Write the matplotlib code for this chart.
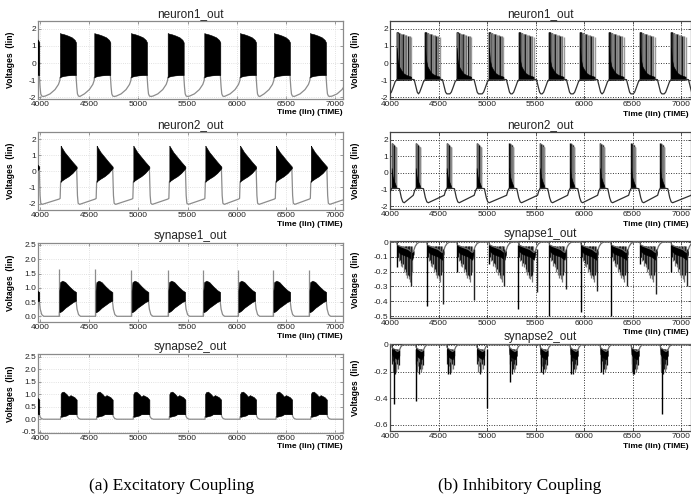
import matplotlib.pyplot as plt

# ---------------- shared axis data ----------------
x_ticks = [4000, 4500, 5000, 5500, 6000, 6500, 7000]
x_ticklabels = ['4000', '4500', '5000', '5500', '6000', '6500', '7000']
titles = ['neuron1_out', 'neuron2_out', 'synapse1_out', 'synapse2_out']
captions = ['(a) Excitatory Coupling', '(b) Inhibitory Coupling']

exc_yticks = [[-2, -1, 0, 1, 2], [-2, -1, 0, 1, 2],
              [0, 0.5, 1, 1.5, 2, 2.5], [-0.5, 0, 0.5, 1, 1.5, 2, 2.5]]
exc_yticklabels = [['-2', '-1', '0', '1', '2'], ['-2', '-1', '0', '1', '2'],
                   ['0.0', '0.5', '1.0', '1.5', '2.0', '2.5'],
                   ['-0.5', '0.0', '0.5', '1.0', '1.5', '2.0', '2.5']]
inh_yticks = [[-2, -1, 0, 1, 2], [-2, -1, 0, 1, 2],
              [-0.5, -0.4, -0.3, -0.2, -0.1, 0], [-0.6, -0.4, -0.2, 0]]
inh_yticklabels = [['-2', '-1', '0', '1', '2'], ['-2', '-1', '0', '1', '2'],
                   ['-0.5', '-0.4', '-0.3', '-0.2', '-0.1', '0'],
                   ['-0.6', '-0.4', '-0.2', '0']]

# ---------------- (a) excitatory coupling ----------------
# burst onsets (first and last ones sit outside the visible window)
exc_n1_onsets = [3830, 4203, 4552, 4925, 5298, 5670, 6033, 6378, 6744, 7120]
exc_n2_onsets = [3830, 4210, 4576, 4949, 5315, 5681, 6034, 6397, 6753, 7120]
exc_s1_onsets = [3823, 4197, 4566, 4932, 5305, 5661, 6017, 6373, 6739, 7150]
exc_s2_onsets = [3830, 4210, 4576, 4949, 5315, 5678, 6034, 6400, 6753, 7150]
exc_s1_peaks = [1.6, 1.65, 1.65, 1.63, 1.62, 1.62, 1.62, 1.62, 1.62, 1.62]

# burst envelope (time after onset, top, bottom)
exc_n1_bt = [0, 10, 40, 80, 120, 150, 163]
exc_n1_hi = [1.75, 1.72, 1.68, 1.6, 1.5, 1.35, 1.2]
exc_n1_lo = [-0.85, -0.8, -0.75, -0.72, -0.7, -0.7, -0.7]
exc_n1_ft = [0, 8, 15, 25, 40]            # fall after burst end
exc_n1_fv = [-0.7, -1.4, -1.8, -1.93, -1.95]
exc_n1_rt = [-150, -100, -50, -15, 0]     # rise before next onset
exc_n1_rv = [-1.93, -1.8, -1.55, -1.25, -1.0]

exc_n2_bt = [0, 5, 40, 80, 120, 163]
exc_n2_hi = [1.6, 1.55, 1.2, 0.9, 0.6, 0.3]
exc_n2_lo = [-0.65, -0.6, -0.45, -0.3, -0.1, 0.2]
exc_n2_ft = [0, 8, 15, 30]
exc_n2_fv = [0.2, -1.5, -1.98, -2.05]
exc_n2_rt = [-15, -5, 0]
exc_n2_rv = [-1.72, -1.68, -0.65]

exc_s1_bt = [0, 8, 30, 60, 100, 140, 170]
exc_s1_hi = [0.9, 1.2, 1.25, 1.2, 1.05, 0.92, 0.85]
exc_s1_lo = [0.15, 0.15, 0.2, 0.3, 0.4, 0.5, 0.55]
exc_s1_ft = [0, 10, 25, 45]
exc_s1_fv = [0.55, 0.25, 0.06, 0.0]
exc_s1_rt = [-1, 0]
exc_s1_rv = [0.0, 0.15]

exc_s2_bt = [0, 10, 30, 60, 80, 100, 120, 140, 163]
exc_s2_hi = [1.0, 1.08, 1.1, 1.0, 0.9, 0.96, 0.92, 0.88, 0.78]
exc_s2_lo = [0.1, 0.1, 0.12, 0.15, 0.2, 0.2, 0.2, 0.2, 0.2]
exc_s2_ft = [0, 8, 20, 40]
exc_s2_fv = [0.2, 0.1, 0.03, 0.0]
exc_s2_rt = [-1, 0]
exc_s2_rv = [0.0, 0.1]

# ---------------- (b) inhibitory coupling ----------------
inh_n1_onsets = [3760, 4069, 4361, 4687, 5020, 5330, 5639, 5959, 6258, 6577, 6897, 7210]
inh_n1_st = [0, 3, 7, 11, 16, 21, 27, 33, 40, 47, 55, 63, 72, 81, 91, 101, 112, 124, 137, 150]
inh_n1_sv = [1.8, 1.8, 1.79, 1.78, 1.76, 1.75, 1.74, 1.73, 1.72, 1.7, 1.7, 1.68, 1.67,
             1.65, 1.63, 1.62, 1.6, 1.57, 1.55, 1.5]
inh_n1_sc = ['k', 'k', '#6e6e6e', 'k', '#7a7a7a', '#6e6e6e', 'k', '#7a7a7a', '#8a8a8a', '#6e6e6e',
             '#7a7a7a', 'k', '#8a8a8a', '#7a7a7a', '#9a9a9a', '#6e6e6e', 'k', '#8a8a8a',
             '#7a7a7a', '#9a9a9a']
inh_n1_ct = [0, 10, 25, 45, 70, 100, 125, 150]
inh_n1_cv = [0.9, 0.2, -0.2, -0.4, -0.6, -0.7, -0.75, -0.8]
inh_n1_ft = [0, 30, 45, 62, 75]
inh_n1_fv = [-0.95, -0.97, -1.3, -1.7, -1.8]
inh_n1_rt = [-70, -55, -35, -15, 0]
inh_n1_rv = [-1.8, -1.7, -1.4, -1.08, -1.0]

inh_n2_onsets = [3700, 4017, 4265, 4584, 4893, 5227, 5546, 5856, 6165, 6485, 6784, 7130]
inh_n2_st = [0, 5, 10, 16, 22, 28, 34, 40, 45]
inh_n2_sv = [1.8, 1.79, 1.78, 1.75, 1.72, 1.7, 1.65, 1.6, 1.55]
inh_n2_sc = ['k', '#6e6e6e', 'k', '#7a7a7a', '#8a8a8a', 'k', '#7a7a7a', '#6e6e6e', '#8a8a8a']
inh_n2_ct = [0, 10, 25, 45]
inh_n2_cv = [0.3, -0.2, -0.5, -0.8]
inh_n2_ft = [0, 35, 55, 70, 85]
inh_n2_fv = [-0.92, -0.95, -1.5, -1.75, -1.8]
inh_n2_rt = [-25, -10, 0]
inh_n2_rv = [-1.35, -1.05, -0.95]

inh_s1_onsets = [4069, 4378, 4688, 5021, 5323, 5639, 5966, 6275, 6577, 6897]
inh_s1_first = [-0.17, -0.43, -0.2, -0.15, -0.45, -0.5, -0.47, -0.5, -0.15, -0.2]
inh_s1_last_t = [4221, 4550, 4870, 5178, 5512, 5812, 6131, 6440, 6739, 7059]
inh_s1_last_v = [-0.3, -0.42, -0.39, -0.3, -0.34, -0.32, -0.33, -0.3, -0.35, -0.3]
inh_s1_bt = [0, 5, 40, 80, 120, 160, 175]
inh_s1_hi = [0.0, -0.02, -0.03, -0.04, -0.05, -0.07, -0.06]
inh_s1_lo = [0.0, -0.06, -0.08, -0.09, -0.1, -0.12, -0.08]
inh_s1_st = [12, 22, 30, 40, 48, 57, 66, 75, 84, 92, 100, 108, 115, 122, 130, 138, 145, 155]
inh_s1_sv = [-0.1, -0.13, -0.12, -0.16, -0.14, -0.17, -0.15, -0.2, -0.18, -0.22, -0.2,
             -0.24, -0.22, -0.25, -0.23, -0.27, -0.22, -0.2]
inh_s1_ft = [0, 15, 35, 60]
inh_s1_fv = [-0.06, -0.03, -0.01, 0.0]

inh_s2_onsets = [4017, 4265, 4584, 4893, 5227, 5546, 5856, 6165, 6485, 6784]
inh_s2_deep_t = [4044, 4265, 4600, 4997, 5240, 5560, 5870, 6180, 6500, 6800]
inh_s2_deep_v = [-0.44, -0.42, -0.22, -0.47, -0.28, -0.2, -0.22, -0.2, -0.22, -0.52]
inh_s2_bt = [0, 4, 20, 40, 60, 80]
inh_s2_hi = [0.0, -0.02, -0.03, -0.04, -0.05, -0.04]
inh_s2_lo = [0.0, -0.07, -0.09, -0.1, -0.11, -0.08]
inh_s2_st = [6, 12, 18, 26, 32, 38, 44, 50, 56, 64, 72]
inh_s2_sv = [-0.14, -0.2, -0.12, -0.16, -0.22, -0.13, -0.18, -0.2, -0.14, -0.18, -0.15]
inh_s2_ft = [0, 15, 35]
inh_s2_fv = [-0.04, -0.015, 0.0]

SANS = ['Liberation Sans', 'DejaVu Sans']


def draw_exc(ax, onsets, b_t, b_hi, b_lo, f_t, f_v, r_t, r_v):
    tt, vv = [], []
    for i, on in enumerate(onsets):
        if i > 0:
            for dt, val in zip(r_t, r_v):
                if on + dt > tt[-1]:
                    tt.append(on + dt)
                    vv.append(val)
        bt = [on + dt for dt in b_t]
        ax.fill_between(bt, b_lo, b_hi, color='black', lw=0.4, zorder=3)
        tt += bt
        vv += b_lo
        tt += [bt[-1] + dt for dt in f_t]
        vv += f_v
    ax.plot(tt, vv, color='#8c8c8c', lw=0.9, zorder=2)


def draw_inh_neuron(ax, onsets, s_t, s_v, s_c, c_t, c_v, f_t, f_v, r_t, r_v, base):
    tt, vv = [], []
    for i, on in enumerate(onsets):
        if i > 0:
            for dt, val in zip(r_t, r_v):
                if on + dt > tt[-1]:
                    tt.append(on + dt)
                    vv.append(val)
        end = on + s_t[-1]
        ax.vlines([on + dt for dt in s_t], base, s_v, colors=s_c, lw=1.0, zorder=3)
        ax.fill_between([on + dt for dt in c_t], base, c_v, color='black', lw=0.4, zorder=4)
        tt += [on, end]
        vv += [base, base]
        tt += [end + dt for dt in f_t]
        vv += f_v
    ax.plot(tt, vv, color='#303030', lw=0.9, zorder=5)


def draw_inh_syn(ax, onsets, b_t, b_hi, b_lo, s_t, s_v, f_t, f_v):
    tt, vv = [3990], [0.0]
    for on in onsets:
        bt = [on + dt for dt in b_t]
        ax.fill_between(bt, b_lo, b_hi, color='black', lw=0.4, zorder=4)
        cols = ['#777777' if k % 2 else '#111111' for k in range(len(s_t))]
        ax.vlines([on + dt for dt in s_t], -0.03, s_v, colors=cols, lw=0.9, zorder=3)
        tt += [on - 1] + bt
        vv += [0.0] + b_hi
        tt += [bt[-1] + dt for dt in f_t]
        vv += f_v
    tt.append(7200)
    vv.append(0.0)
    ax.plot(tt, vv, color='#6a6a6a', lw=0.9, zorder=5)


def style_axes(ax, xlim, ylim, yt, ytl, title, inhib):
    ax.set_xlim(*xlim)
    ax.set_ylim(*ylim)
    ax.set_xticks(x_ticks)
    ax.set_xticklabels(x_ticklabels)
    ax.set_yticks(yt)
    ax.set_yticklabels(ytl)
    ax.set_axisbelow(True)
    if inhib:
        ax.grid(True, color='#333333', ls=(0, (1, 1.6)), lw=0.7)
        spc = '#444444'
    else:
        ax.grid(True, color='#d8d8d8', ls=(0, (1, 1.6)), lw=0.6)
        spc = '#8a8a8a'
    for s in ax.spines.values():
        s.set_color(spc)
        s.set_linewidth(0.9)
    ax.tick_params(direction='in', length=2, width=0.6, color=spc, labelsize=6,
                   pad=1.2, top=True, right=True, labelcolor='#222222')
    for lab in ax.get_xticklabels() + ax.get_yticklabels():
        lab.set_fontfamily(SANS)
    ax.set_title(title, fontsize=8.5, pad=3, family=SANS, color='#222222')


W, H = 691, 498
fig = plt.figure(figsize=(W / 100, H / 100), dpi=100)

left_rows = [(21, 99), (132, 210), (243, 322), (354, 433)]
right_rows = [(21, 99), (132, 209), (241, 318), (344, 431)]
exc_ylims = [(-2.1, 2.45), (-2.4, 2.45), (-0.2, 2.57), (-0.55, 2.6)]
inh_ylims = [(-2.1, 2.45), (-2.18, 2.48), (-0.513, 0.007), (-0.645, 0.006)]

exc_axes, inh_axes = [], []
for k in range(4):
    t, b = left_rows[k]
    ax = fig.add_axes([38 / W, 1 - b / H, 305 / W, (b - t) / H])
    style_axes(ax, (3980, 7080), exc_ylims[k], exc_yticks[k], exc_yticklabels[k], titles[k], False)
    ax.set_ylabel('Voltages  (lin)', fontsize=6.2, fontweight='bold', family=SANS)
    ax.yaxis.set_label_coords(-0.075, 0.5)
    fig.text(343 / W, 1 - (b + 14) / H, 'Time (lin) (TIME)', ha='right', va='center',
             fontsize=6, fontweight='bold', family=SANS)
    exc_axes.append(ax)

    t, b = right_rows[k]
    ax = fig.add_axes([390 / W, 1 - b / H, 301 / W, (b - t) / H])
    style_axes(ax, (4000, 7103), inh_ylims[k], inh_yticks[k], inh_yticklabels[k], titles[k], True)
    ax.set_ylabel('Voltages  (lin)', fontsize=6.2, fontweight='bold', family=SANS)
    ax.yaxis.set_label_coords(-0.1, 0.5)
    fig.text(689 / W, 1 - (b + 15) / H, 'Time (lin) (TIME)', ha='right', va='center',
             fontsize=6, fontweight='bold', family=SANS)
    inh_axes.append(ax)

draw_exc(exc_axes[0], exc_n1_onsets, exc_n1_bt, exc_n1_hi, exc_n1_lo,
         exc_n1_ft, exc_n1_fv, exc_n1_rt, exc_n1_rv)
draw_exc(exc_axes[1], exc_n2_onsets, exc_n2_bt, exc_n2_hi, exc_n2_lo,
         exc_n2_ft, exc_n2_fv, exc_n2_rt, exc_n2_rv)
draw_exc(exc_axes[2], exc_s1_onsets, exc_s1_bt, exc_s1_hi, exc_s1_lo,
         exc_s1_ft, exc_s1_fv, exc_s1_rt, exc_s1_rv)
exc_axes[2].vlines([t - 3 for t in exc_s1_onsets], 0.0, exc_s1_peaks, colors='#8c8c8c', lw=0.9)
draw_exc(exc_axes[3], exc_s2_onsets, exc_s2_bt, exc_s2_hi, exc_s2_lo,
         exc_s2_ft, exc_s2_fv, exc_s2_rt, exc_s2_rv)

draw_inh_neuron(inh_axes[0], inh_n1_onsets, inh_n1_st, inh_n1_sv, inh_n1_sc, inh_n1_ct, inh_n1_cv,
                inh_n1_ft, inh_n1_fv, inh_n1_rt, inh_n1_rv, -0.97)
draw_inh_neuron(inh_axes[1], inh_n2_onsets, inh_n2_st, inh_n2_sv, inh_n2_sc, inh_n2_ct, inh_n2_cv,
                inh_n2_ft, inh_n2_fv, inh_n2_rt, inh_n2_rv, -0.93)
draw_inh_syn(inh_axes[2], inh_s1_onsets, inh_s1_bt, inh_s1_hi, inh_s1_lo,
             inh_s1_st, inh_s1_sv, inh_s1_ft, inh_s1_fv)
inh_axes[2].vlines(inh_s1_onsets, -0.02, inh_s1_first, colors='k', lw=1.0, zorder=6)
inh_axes[2].vlines(inh_s1_last_t, -0.05, inh_s1_last_v, colors='#222222', lw=1.0, zorder=6)
draw_inh_syn(inh_axes[3], inh_s2_onsets, inh_s2_bt, inh_s2_hi, inh_s2_lo,
             inh_s2_st, inh_s2_sv, inh_s2_ft, inh_s2_fv)
inh_axes[3].vlines(inh_s2_deep_t, -0.03, inh_s2_deep_v, colors='k', lw=1.0, zorder=6)

fig.text(172 / W, 1 - 486 / H, captions[0], ha='center', va='center', fontsize=12.5,
         family=['Liberation Serif', 'DejaVu Serif'])
fig.text(520 / W, 1 - 486 / H, captions[1], ha='center', va='center', fontsize=12.5,
         family=['Liberation Serif', 'DejaVu Serif'])

fig.savefig('out.png', dpi=100)
